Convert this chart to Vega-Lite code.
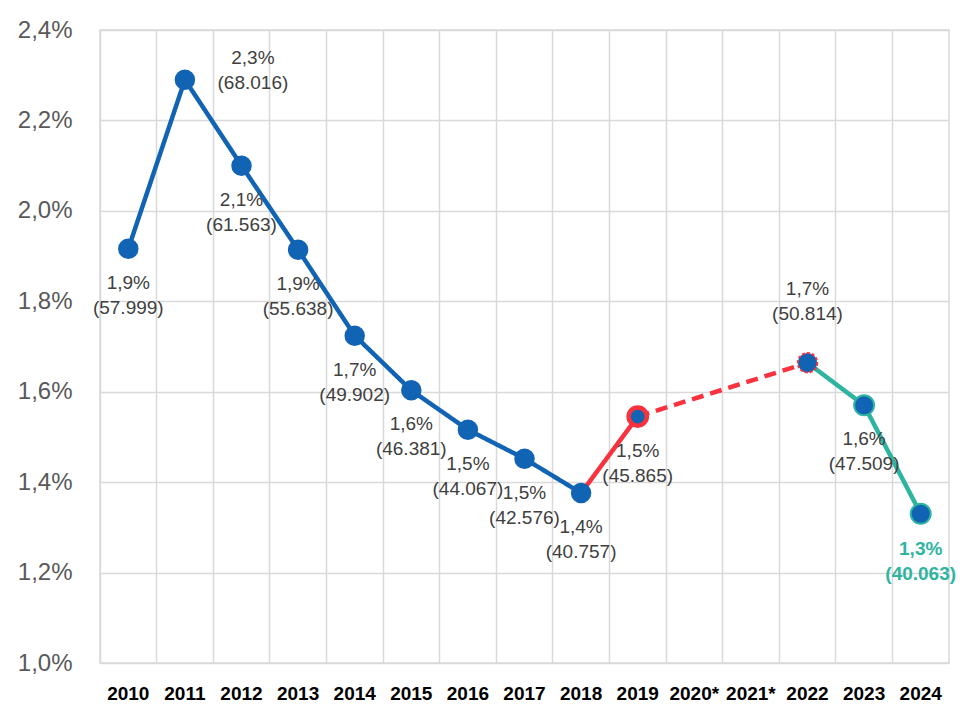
{
  "$schema": "https://vega.github.io/schema/vega-lite/v6.json",
  "autosize": {"type": "none"},
  "width": 849,
  "height": 633,
  "padding": {"left": 100, "top": 30, "right": 25, "bottom": 55},
  "background": "white",
  "config": {
    "locale": {"number": {"decimal": ",", "thousands": ".", "grouping": [3], "currency": ["", " €"]}},
    "view": {"stroke": "#d9d9d9", "strokeWidth": 1.5},
    "font": "Liberation Sans"
  },
  "datasets": {
    "pts": [
      {"year": "2010", "rate": 0.01916, "label": "1,9%\n(57.999)"},
      {"year": "2011", "rate": 0.02290, "label": "2,3%\n(68.016)"},
      {"year": "2012", "rate": 0.02100, "label": "2,1%\n(61.563)"},
      {"year": "2013", "rate": 0.01914, "label": "1,9%\n(55.638)"},
      {"year": "2014", "rate": 0.01724, "label": "1,7%\n(49.902)"},
      {"year": "2015", "rate": 0.01603, "label": "1,6%\n(46.381)"},
      {"year": "2016", "rate": 0.01516, "label": "1,5%\n(44.067)"},
      {"year": "2017", "rate": 0.01452, "label": "1,5%\n(42.576)"},
      {"year": "2018", "rate": 0.01376, "label": "1,4%\n(40.757)"},
      {"year": "2019", "rate": 0.01545, "label": "1,5%\n(45.865)"},
      {"year": "2022", "rate": 0.01664, "label": "1,7%\n(50.814)"},
      {"year": "2023", "rate": 0.01570, "label": "1,6%\n(47.509)"},
      {"year": "2024", "rate": 0.01330, "label": "1,3%\n(40.063)"}
    ],
    "lines": [
      {"seg": "blue", "year": "2010", "rate": 0.01916},
      {"seg": "blue", "year": "2011", "rate": 0.02290},
      {"seg": "blue", "year": "2012", "rate": 0.02100},
      {"seg": "blue", "year": "2013", "rate": 0.01914},
      {"seg": "blue", "year": "2014", "rate": 0.01724},
      {"seg": "blue", "year": "2015", "rate": 0.01603},
      {"seg": "blue", "year": "2016", "rate": 0.01516},
      {"seg": "blue", "year": "2017", "rate": 0.01452},
      {"seg": "blue", "year": "2018", "rate": 0.01376},
      {"seg": "red", "year": "2018", "rate": 0.01376},
      {"seg": "red", "year": "2019", "rate": 0.01545},
      {"seg": "reddash", "year": "2019", "rate": 0.01545},
      {"seg": "reddash", "year": "2022", "rate": 0.01664},
      {"seg": "teal", "year": "2022", "rate": 0.01664},
      {"seg": "teal", "year": "2023", "rate": 0.01570},
      {"seg": "teal", "year": "2024", "rate": 0.01330}
    ]
  },
  "encoding": {
    "x": {
      "field": "year", "type": "nominal",
      "scale": {"type": "band", "paddingInner": 0, "paddingOuter": 0,
        "domain": ["2010","2011","2012","2013","2014","2015","2016","2017","2018","2019","2020*","2021*","2022","2023","2024"]},
      "axis": {"title": null, "labelAngle": 0, "labelFont": "Liberation Sans", "labelFontWeight": "bold", "labelFontSize": 19, "labelColor": "#000000", "ticks": false, "domain": false, "grid": true, "bandPosition": 0, "gridColor": "#d9d9d9", "gridWidth": 1.5, "labelPadding": 21, "labelOverlap": false}
    },
    "y": {
      "field": "rate", "type": "quantitative",
      "scale": {"domain": [0.01, 0.024], "nice": false, "zero": false},
      "axis": {"title": null, "values": [0.01, 0.012, 0.014, 0.016, 0.018, 0.02, 0.022, 0.024], "format": ".1%", "labelFont": "Liberation Sans", "labelFontSize": 24, "labelColor": "#595959", "ticks": false, "domain": false, "grid": true, "gridColor": "#d9d9d9", "gridWidth": 1.5, "labelPadding": 28}
    }
  },
  "layer": [
    {
      "data": {"name": "lines"},
      "mark": {"type": "line", "strokeWidth": 4.5},
      "encoding": {
        "color": {"field": "seg", "type": "nominal", "legend": null,
          "scale": {"domain": ["blue", "red", "reddash", "teal"], "range": ["#1163B4", "#F8323F", "#F8323F", "#2FB4A0"]}},
        "strokeDash": {"field": "seg", "type": "nominal", "legend": null,
          "scale": {"domain": ["blue", "red", "reddash", "teal"], "range": [[1, 0], [1, 0], [12, 7], [1, 0]]}},
        "detail": {"field": "seg"}
      }
    },
    {
      "data": {"name": "pts"},
      "transform": [{"filter": "indexof(['2019','2022','2023','2024'], datum.year) < 0"}],
      "mark": {"type": "point", "shape": "circle", "filled": true, "size": 420, "color": "#1163B4", "opacity": 1}
    },
    {
      "data": {"name": "pts"},
      "transform": [{"filter": "datum.year == '2019'"}],
      "mark": {"type": "point", "shape": "circle", "filled": true, "size": 330, "fill": "#1163B4", "stroke": "#F8323F", "strokeWidth": 4.5, "opacity": 1, "fillOpacity": 1, "strokeOpacity": 1}
    },
    {
      "data": {"name": "pts"},
      "transform": [{"filter": "datum.year == '2022'"}],
      "mark": {"type": "point", "shape": "circle", "filled": true, "size": 380, "fill": "#1163B4", "stroke": "#F8323F", "strokeWidth": 2, "strokeDash": [3, 2], "opacity": 1, "fillOpacity": 1, "strokeOpacity": 1}
    },
    {
      "data": {"name": "pts"},
      "transform": [{"filter": "datum.year == '2023' || datum.year == '2024'"}],
      "mark": {"type": "point", "shape": "circle", "filled": true, "size": 400, "fill": "#1163B4", "stroke": "#2FB4A0", "strokeWidth": 2, "opacity": 1, "fillOpacity": 1, "strokeOpacity": 1}
    },
    {
      "data": {"name": "pts"},
      "transform": [{"filter": "indexof(['2011','2022','2024'], datum.year) < 0"}],
      "mark": {"type": "text", "font": "Liberation Sans", "fontSize": 19, "color": "#404040", "lineBreak": "\n", "lineHeight": 25, "baseline": "middle", "align": "center", "dy": 34},
      "encoding": {"text": {"field": "label"}}
    },
    {
      "data": {"name": "pts"},
      "transform": [{"filter": "datum.year == '2011'"}],
      "mark": {"type": "text", "font": "Liberation Sans", "fontSize": 19, "color": "#404040", "lineBreak": "\n", "lineHeight": 25, "baseline": "middle", "align": "center", "dx": 68, "dy": -22},
      "encoding": {"text": {"field": "label"}}
    },
    {
      "data": {"name": "pts"},
      "transform": [{"filter": "datum.year == '2022'"}],
      "mark": {"type": "text", "font": "Liberation Sans", "fontSize": 19, "color": "#404040", "lineBreak": "\n", "lineHeight": 25, "baseline": "middle", "align": "center", "dy": -74},
      "encoding": {"text": {"field": "label"}}
    },
    {
      "data": {"name": "pts"},
      "transform": [{"filter": "datum.year == '2024'"}],
      "mark": {"type": "text", "font": "Liberation Sans", "fontSize": 19, "fontWeight": "bold", "color": "#2FB4A0", "lineBreak": "\n", "lineHeight": 25, "baseline": "middle", "align": "center", "dy": 35},
      "encoding": {"text": {"field": "label"}}
    }
  ]
}
